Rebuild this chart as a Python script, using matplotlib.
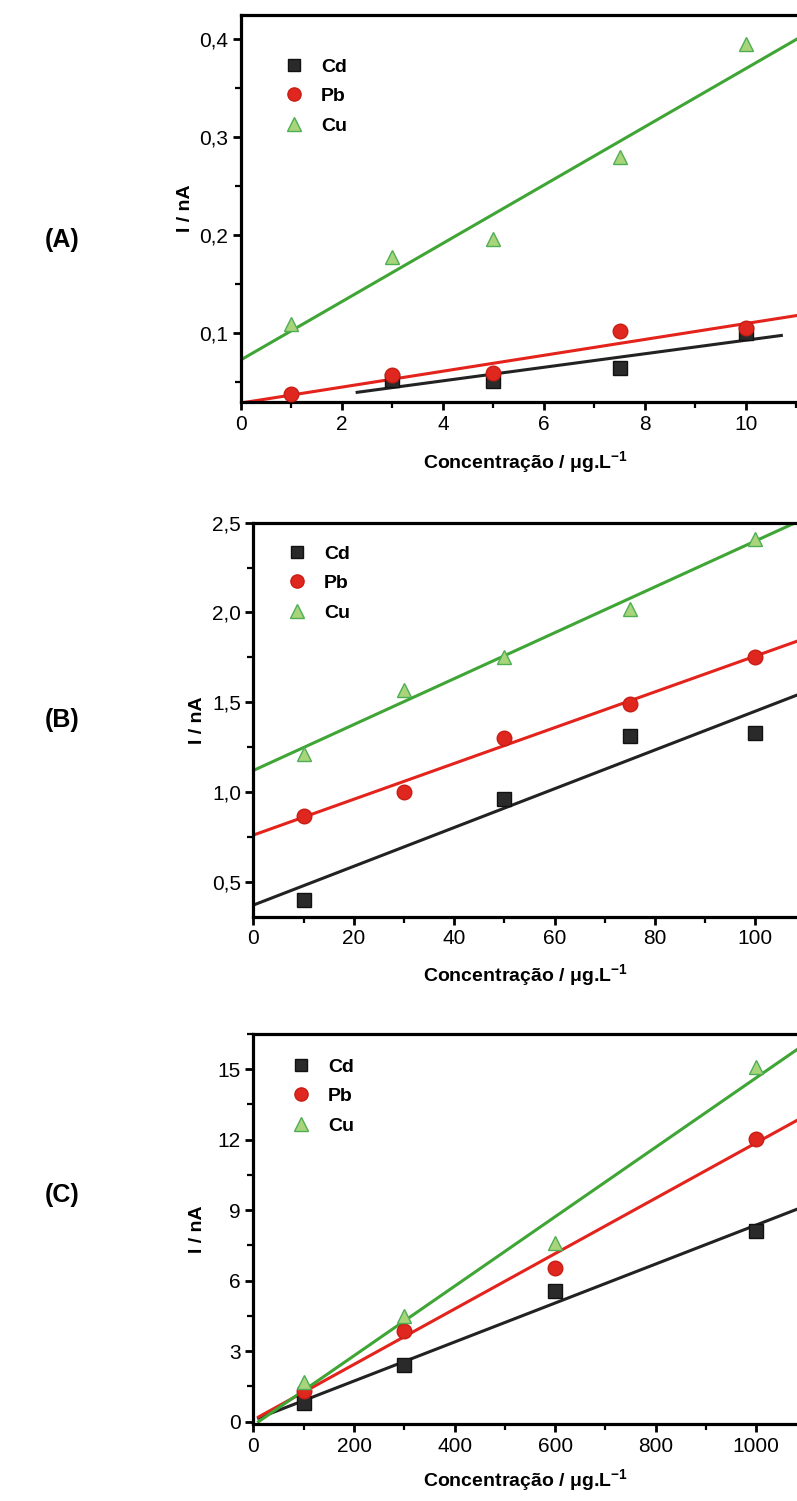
import matplotlib
matplotlib.use('Agg')
import matplotlib.pyplot as plt
from matplotlib.ticker import MultipleLocator, FuncFormatter
from matplotlib.lines import Line2D

plt.rcParams['font.family'] = ['Liberation Sans', 'DejaVu Sans']
plt.rcParams['mathtext.fontset'] = 'custom'
plt.rcParams['mathtext.rm'] = 'Liberation Sans:bold'
plt.rcParams['mathtext.bf'] = 'Liberation Sans:bold'
plt.rcParams['mathtext.default'] = 'bf'

W, H = 797, 1501

# Panel A data
conc_a = [1, 3, 5, 7.5, 10]
cu_a = [0.110, 0.178, 0.196, 0.280, 0.395]
pb_a = [0.038, 0.058, 0.060, 0.102, 0.105]
conc_cd_a = [3, 5, 7.5, 10]
cd_a = [0.052, 0.051, 0.065, 0.100]

# Panel B data
conc_b = [10, 30, 50, 75, 100]
cu_b = [1.21, 1.57, 1.75, 2.02, 2.41]
pb_b = [0.865, 1.00, 1.30, 1.49, 1.75]
conc_cd_b = [10, 50, 75, 100]
cd_b = [0.40, 0.96, 1.31, 1.33]

# Panel C data
conc_c = [100, 300, 600, 1000]
cu_c = [1.70, 4.50, 7.60, 15.10]
pb_c = [1.30, 3.85, 6.55, 12.05]
cd_c = [0.80, 2.40, 5.55, 8.10]

# fitted lines: (slope, intercept, x start, x end)
fits_a = {'Cd': (0.0069, 0.024, 2.3, 10.7), 'Pb': (0.0081, 0.029, 0, 12), 'Cu': (0.0297, 0.073, 0, 12)}
fits_b = {'Cd': (0.0108, 0.37, 0, 115), 'Pb': (0.00997, 0.76, 0, 115), 'Cu': (0.01278, 1.12, 0, 115)}
fits_c = {'Cd': (0.0083, 0.07, 10, 1150), 'Pb': (0.01179, 0.08, 10, 1150), 'Cu': (0.01479, -0.15, 10, 1150)}

colors = {'Cd': '#222222', 'Pb': '#e3231c', 'Cu': '#3fa535'}
markers = {'Cd': dict(marker='s', color='#2a2a2a', mec='#111111', ms=10),
           'Pb': dict(marker='o', color='#e0271f', mec='#c81d15', ms=10.5),
           'Cu': dict(marker='^', color='#a8d57a', mec='#4fae55', ms=10.5)}

fig = plt.figure(figsize=(W / 100, H / 100), dpi=100)


def px_axes(left, top, right, bottom):
    return fig.add_axes([left / W, 1 - bottom / H, (right - left) / W, (bottom - top) / H])


def comma(v, pos):
    return ('%.1f' % v).replace('.', ',')


def panel(ax, data, fits, xlim, ylim, xmaj, xmin, ymaj, ymin, yfmt, tag, tag_y, leg_xy, ylab_x, xlab_y):
    for name, (x, y) in data.items():
        m = markers[name]
        ax.plot(x, y, ls='none', marker=m['marker'], mfc=m['color'], mec=m['mec'], ms=m['ms'], zorder=3)
    for name, (k, b, x0, x1) in fits.items():
        ax.plot([x0, x1], [k * x0 + b, k * x1 + b], color=colors[name], lw=2.2, zorder=2)
    ax.set_xlim(*xlim)
    ax.set_ylim(*ylim)
    ax.xaxis.set_major_locator(MultipleLocator(xmaj))
    ax.xaxis.set_minor_locator(MultipleLocator(xmin))
    ax.yaxis.set_major_locator(MultipleLocator(ymaj))
    ax.yaxis.set_minor_locator(MultipleLocator(ymin))
    ax.yaxis.set_major_formatter(FuncFormatter(yfmt))
    ax.tick_params(which='major', direction='out', length=6, width=2, labelsize=15, pad=3)
    ax.tick_params(which='minor', direction='out', length=4, width=1.6)
    ax.tick_params(top=False, right=False)
    for s in ax.spines.values():
        s.set_linewidth(2.3)
    ax.spines['right'].set_visible(False)
    tr = fig.transFigure
    ax.set_xlabel('Concentração / μg.L$^{-1}$', fontsize=14, fontweight='bold', va='center')
    ax.set_ylabel('I / nA', fontsize=14, fontweight='bold', va='center')
    bb = ax.get_position()
    ax.xaxis.set_label_coords(525 / W, 1 - xlab_y / H, transform=tr)
    ax.yaxis.set_label_coords(ylab_x / W, (bb.y0 + bb.y1) / 2, transform=tr)
    fig.text(62 / W, 1 - tag_y / H, tag, fontsize=18, fontweight='bold', ha='center', va='center')
    handles = [Line2D([], [], ls='none', marker=markers[n]['marker'], mfc=markers[n]['color'],
                      mec=markers[n]['mec'], ms=markers[n]['ms'] - 1) for n in ['Cd', 'Pb', 'Cu']]
    ax.legend(handles, ['Cd', 'Pb', 'Cu'], loc='upper left', frameon=False,
              bbox_to_anchor=(leg_xy[0] / W, 1 - leg_xy[1] / H), bbox_transform=tr,
              borderpad=0, borderaxespad=0, handlelength=1.0, handletextpad=0.9,
              labelspacing=0.62, prop={'weight': 'bold', 'size': 14})


ax_a = px_axes(241, 15, 797, 402)
panel(ax_a, {'Cd': (conc_cd_a, cd_a), 'Pb': (conc_a, pb_a), 'Cu': (conc_a, cu_a)}, fits_a,
      (0, 11.01), (0.03, 0.4245), 2, 1, 0.1, 0.05, comma, '(A)', 240, (284, 58), 185, 462)

ax_b = px_axes(253.5, 522.7, 797, 916.7)
panel(ax_b, {'Cd': (conc_cd_b, cd_b), 'Pb': (conc_b, pb_b), 'Cu': (conc_b, cu_b)}, fits_b,
      (0, 108.3), (0.305, 2.5), 20, 10, 0.5, 0.25, comma, '(B)', 720, (287, 545), 197, 975)

ax_c = px_axes(253.5, 1034, 797, 1424)
panel(ax_c, {'Cd': (conc_c, cd_c), 'Pb': (conc_c, pb_c), 'Cu': (conc_c, cu_c)}, fits_c,
      (0, 1081), (-0.1, 16.5), 200, 100, 3, 1.5, lambda v, p: '%d' % round(v), '(C)', 1195, (291, 1058), 197, 1480)

fig.savefig('out.png', dpi=100)
